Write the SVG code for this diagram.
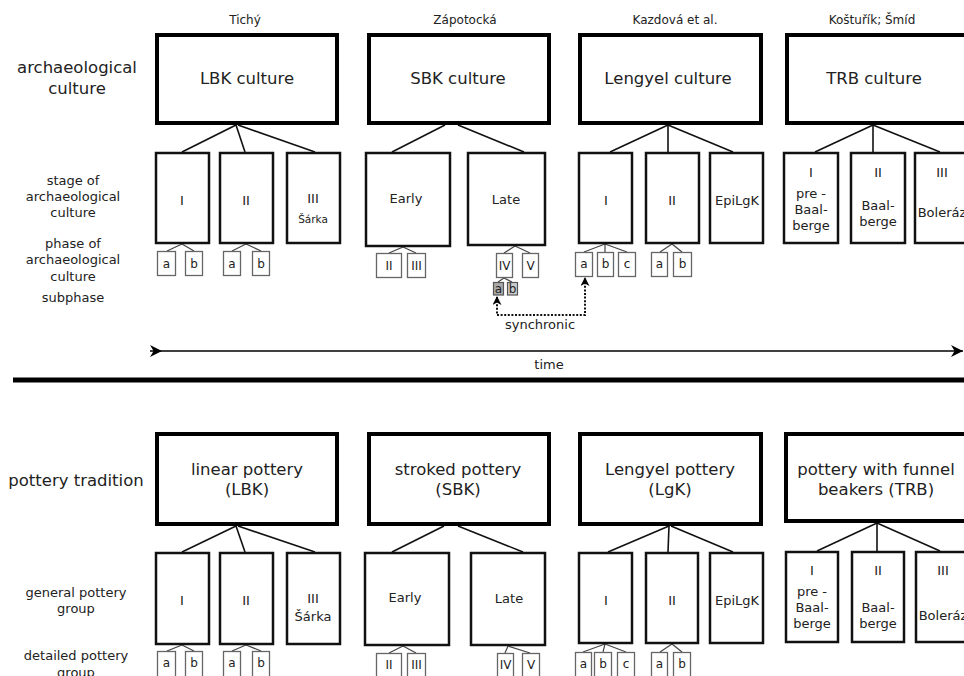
<svg xmlns="http://www.w3.org/2000/svg" width="964" height="676" viewBox="0 0 964 676">
<style>
text{font-family:"DejaVu Sans","Liberation Sans",sans-serif;fill:#222;text-anchor:middle}
.big{fill:#fff;stroke:#000;stroke-width:4}
.stage{fill:#fff;stroke:#111;stroke-width:2.5}
.sub{fill:#fff;stroke:#666;stroke-width:1.3}
.t16{font-size:16.5px}
.t13{font-size:13px}
.t12{font-size:12px}
.t10{font-size:10.5px}
#connectors line{stroke:#111;stroke-width:1.6}
#connectors .thin line{stroke:#444;stroke-width:1.2}
</style>
<defs>
<marker id="ah" viewBox="0 0 10 10" refX="9" refY="5" markerWidth="9" markerHeight="9" orient="auto-start-reverse" markerUnits="userSpaceOnUse"><path d="M0,0 L10,5 L0,10 L3,5 z" fill="#000"/></marker>
<marker id="tail" viewBox="0 0 10 10" refX="0" refY="5" markerWidth="13" markerHeight="12" orient="auto" markerUnits="userSpaceOnUse"><path d="M0,0 L10,5 L0,10 L3,5 z" fill="#000"/></marker>
<marker id="head" viewBox="0 0 10 10" refX="10" refY="5" markerWidth="13" markerHeight="12" orient="auto" markerUnits="userSpaceOnUse"><path d="M0,0 L10,5 L0,10 L3,5 z" fill="#000"/></marker>
</defs>

<g id="labels">
<text class="t12" x="245" y="24">Tichý</text>
<text class="t12" x="465" y="24">Zápotocká</text>
<text class="t12" x="675" y="24">Kazdová et al.</text>
<text class="t12" x="872" y="24">Koštuřík; Šmíd</text>
<text class="t16" x="77" y="73">archaeological</text>
<text class="t16" x="77" y="94">culture</text>
<text class="t13" x="73" y="185">stage of</text>
<text class="t13" x="73" y="201">archaeological</text>
<text class="t13" x="73" y="217">culture</text>
<text class="t13" x="73" y="248">phase of</text>
<text class="t13" x="73" y="264">archaeological</text>
<text class="t13" x="73" y="281">culture</text>
<text class="t13" x="73" y="302">subphase</text>
<text class="t16" x="76" y="486">pottery tradition</text>
<text class="t13" x="76" y="597">general pottery</text>
<text class="t13" x="76" y="613">group</text>
<text class="t13" x="76" y="660">detailed pottery</text>
<text class="t13" x="76" y="677">group</text>
<text class="t13" x="540" y="329">synchronic</text>
<text class="t13" x="549" y="369">time</text>
</g>

<g id="connectors">
<line x1="236" y1="125" x2="182" y2="152"/><line x1="236" y1="125" x2="245" y2="152"/><line x1="238" y1="125" x2="315" y2="152"/>
<line x1="445" y1="125" x2="392" y2="152"/><line x1="458" y1="125" x2="524" y2="152"/>
<line x1="668" y1="125" x2="610" y2="152"/><line x1="668" y1="125" x2="668" y2="152"/><line x1="668" y1="125" x2="733" y2="152"/>
<line x1="873" y1="125" x2="815" y2="152"/><line x1="873" y1="125" x2="873" y2="152"/><line x1="873" y1="125" x2="940" y2="152"/>
<line x1="236" y1="526" x2="182" y2="552"/><line x1="236" y1="526" x2="245" y2="552"/><line x1="238" y1="526" x2="315" y2="552"/>
<line x1="444" y1="526" x2="392" y2="552"/><line x1="458" y1="526" x2="523" y2="552"/>
<line x1="669" y1="526" x2="608" y2="552"/><line x1="669" y1="526" x2="668" y2="552"/><line x1="671" y1="526" x2="733" y2="552"/>
<line x1="877" y1="523" x2="817" y2="551"/><line x1="877" y1="523" x2="877" y2="551"/><line x1="877" y1="523" x2="940" y2="551"/>
<g class="thin">
<line x1="182" y1="244" x2="167" y2="251"/><line x1="182" y1="244" x2="194" y2="251"/>
<line x1="246" y1="244" x2="232" y2="251"/><line x1="246" y1="244" x2="261" y2="251"/>
<line x1="403" y1="247" x2="389" y2="253"/><line x1="403" y1="247" x2="416" y2="253"/>
<line x1="515" y1="246" x2="504" y2="253"/><line x1="515" y1="246" x2="530" y2="253"/>
<line x1="504" y1="278" x2="498" y2="282"/><line x1="504" y1="278" x2="512" y2="282"/>
<line x1="605" y1="244" x2="584" y2="252"/><line x1="605" y1="244" x2="605" y2="252"/><line x1="605" y1="244" x2="627" y2="252"/>
<line x1="672" y1="244" x2="660" y2="252"/><line x1="672" y1="244" x2="682" y2="252"/>
<line x1="182" y1="645" x2="167" y2="651"/><line x1="182" y1="645" x2="194" y2="651"/>
<line x1="246" y1="645" x2="232" y2="651"/><line x1="246" y1="645" x2="261" y2="651"/>
<line x1="403" y1="646" x2="389" y2="653"/><line x1="403" y1="646" x2="416" y2="653"/>
<line x1="508" y1="646" x2="505" y2="653"/><line x1="508" y1="646" x2="530" y2="653"/>
<line x1="605" y1="644" x2="583" y2="652"/><line x1="605" y1="644" x2="603" y2="652"/><line x1="605" y1="644" x2="626" y2="652"/>
<line x1="672" y1="644" x2="660" y2="652"/><line x1="672" y1="644" x2="682" y2="652"/>
</g>
<path d="M497,297 V315 H585 V278" fill="none" stroke="#111" stroke-width="2" stroke-dasharray="2 1.6" marker-start="url(#ah)" marker-end="url(#ah)"/>
<line x1="150" y1="351" x2="963" y2="351" stroke="#000" stroke-width="1.5" marker-start="url(#tail)" marker-end="url(#head)" style="stroke:#000;stroke-width:1.5"/>
<line x1="13" y1="380" x2="964" y2="380" style="stroke:#000;stroke-width:5"/>
</g>

<g id="n-lbk"><rect class="big" x="157" y="35" width="180" height="88"/><text class="t16" x="247" y="84">LBK culture</text></g>
<g id="n-sbk"><rect class="big" x="369" y="35" width="180" height="88"/><text class="t16" x="458" y="84">SBK culture</text></g>
<g id="n-lengyel"><rect class="big" x="580" y="35" width="181" height="88"/><text class="t16" x="668" y="84">Lengyel culture</text></g>
<g id="n-trb"><rect class="big" x="787" y="35" width="187" height="88"/><text class="t16" x="874" y="84">TRB culture</text></g>

<g id="n-lbk-1"><rect class="stage" x="156" y="153" width="53" height="90"/><text class="t13" x="182" y="205">I</text></g>
<g id="n-lbk-2"><rect class="stage" x="220" y="153" width="53" height="90"/><text class="t13" x="246" y="205">II</text></g>
<g id="n-lbk-3"><rect class="stage" x="287" y="153" width="53" height="90"/><text class="t13" x="313" y="203">III</text><text class="t10" x="313" y="223">Šárka</text></g>
<g id="n-sbk-early"><rect class="stage" x="366" y="153" width="84" height="93"/><text class="t13" x="406" y="203">Early</text></g>
<g id="n-sbk-late"><rect class="stage" x="468" y="153" width="77" height="92"/><text class="t13" x="506" y="204">Late</text></g>
<g id="n-lg-1"><rect class="stage" x="579" y="153" width="53" height="90"/><text class="t13" x="606" y="205">I</text></g>
<g id="n-lg-2"><rect class="stage" x="646" y="153" width="53" height="90"/><text class="t13" x="672" y="205">II</text></g>
<g id="n-lg-epi"><rect class="stage" x="710" y="153" width="53" height="90"/><text class="t13" x="737" y="205">EpiLgK</text></g>
<g id="n-trb-1"><rect class="stage" x="784" y="153" width="54" height="90"/><text class="t13" x="811" y="177">I</text><text class="t13" x="811" y="198">pre -</text><text class="t13" x="811" y="214">Baal-</text><text class="t13" x="811" y="230">berge</text></g>
<g id="n-trb-2"><rect class="stage" x="851" y="153" width="54" height="90"/><text class="t13" x="878" y="177">II</text><text class="t13" x="878" y="210">Baal-</text><text class="t13" x="878" y="226">berge</text></g>
<g id="n-trb-3"><rect class="stage" x="915" y="153" width="60" height="90"/><text class="t13" x="942" y="177">III</text><text class="t13" x="942" y="217">Boleráz</text></g>

<g id="n-lbk-1a"><rect class="sub" x="157.5" y="251.5" width="18" height="24"/><text class="t12" x="166.5" y="268">a</text></g>
<g id="n-lbk-1b"><rect class="sub" x="185.5" y="251.5" width="17" height="24"/><text class="t12" x="194" y="268">b</text></g>
<g id="n-lbk-2a"><rect class="sub" x="223.5" y="251.5" width="17" height="24"/><text class="t12" x="232" y="268">a</text></g>
<g id="n-lbk-2b"><rect class="sub" x="252.5" y="251.5" width="17" height="24"/><text class="t12" x="261" y="268">b</text></g>
<g id="n-sbk-II"><rect class="sub" x="376.5" y="253.5" width="25" height="24"/><text class="t12" x="389" y="270">II</text></g>
<g id="n-sbk-III"><rect class="sub" x="407.5" y="253.5" width="18" height="24"/><text class="t12" x="416.5" y="270">III</text></g>
<g id="n-sbk-IV"><rect class="sub" x="496.5" y="253.5" width="16" height="24"/><text class="t12" x="504.5" y="270">IV</text></g>
<g id="n-sbk-V"><rect class="sub" x="522.5" y="253.5" width="16" height="24"/><text class="t12" x="530.5" y="270">V</text></g>
<g id="n-sbk-IVa"><rect x="493.5" y="282.5" width="10" height="12.5" fill="#aaa" stroke="#555" stroke-width="1.2"/><text class="t12" x="498.5" y="293">a</text></g>
<g id="n-sbk-IVb"><rect x="507.5" y="282.5" width="10" height="12.5" fill="#ccc" stroke="#555" stroke-width="1.2"/><text class="t12" x="512.5" y="293">b</text></g>
<g id="n-lg-1a"><rect class="sub" x="575.5" y="252.5" width="17" height="24"/><text class="t12" x="584" y="268">a</text></g>
<g id="n-lg-1b"><rect class="sub" x="597.5" y="252.5" width="16" height="24"/><text class="t12" x="605.5" y="268">b</text></g>
<g id="n-lg-1c"><rect class="sub" x="618.5" y="252.5" width="17" height="24"/><text class="t12" x="627" y="268">c</text></g>
<g id="n-lg-2a"><rect class="sub" x="651.5" y="252.5" width="16" height="24"/><text class="t12" x="659.5" y="268">a</text></g>
<g id="n-lg-2b"><rect class="sub" x="673.5" y="252.5" width="18" height="24"/><text class="t12" x="682.5" y="268">b</text></g>

<g id="p-lbk"><rect class="big" x="157" y="434" width="180" height="90"/><text class="t16" x="247" y="475">linear pottery</text><text class="t16" x="247" y="495">(LBK)</text></g>
<g id="p-sbk"><rect class="big" x="369" y="434" width="180" height="90"/><text class="t16" x="458" y="475">stroked pottery</text><text class="t16" x="458" y="495">(SBK)</text></g>
<g id="p-lengyel"><rect class="big" x="580" y="434" width="181" height="90"/><text class="t16" x="670" y="475">Lengyel pottery</text><text class="t16" x="670" y="495">(LgK)</text></g>
<g id="p-trb"><rect class="big" x="786" y="434" width="188" height="87"/><text class="t16" x="876" y="475">pottery with funnel</text><text class="t16" x="876" y="495">beakers (TRB)</text></g>

<g id="p-lbk-1"><rect class="stage" x="156" y="553" width="53" height="91"/><text class="t13" x="182" y="605">I</text></g>
<g id="p-lbk-2"><rect class="stage" x="220" y="553" width="53" height="91"/><text class="t13" x="246" y="605">II</text></g>
<g id="p-lbk-3"><rect class="stage" x="287" y="553" width="53" height="91"/><text class="t13" x="313" y="603">III</text><text class="t13" x="313" y="621">Šárka</text></g>
<g id="p-sbk-early"><rect class="stage" x="365" y="553" width="84" height="92"/><text class="t13" x="405" y="602">Early</text></g>
<g id="p-sbk-late"><rect class="stage" x="471" y="553" width="74" height="92"/><text class="t13" x="509" y="603">Late</text></g>
<g id="p-lg-1"><rect class="stage" x="579" y="553" width="53" height="90"/><text class="t13" x="606" y="605">I</text></g>
<g id="p-lg-2"><rect class="stage" x="646" y="553" width="52" height="90"/><text class="t13" x="672" y="605">II</text></g>
<g id="p-lg-epi"><rect class="stage" x="710" y="553" width="53" height="90"/><text class="t13" x="737" y="605">EpiLgK</text></g>
<g id="p-trb-1"><rect class="stage" x="786" y="552" width="52" height="90"/><text class="t13" x="812" y="575">I</text><text class="t13" x="812" y="596">pre -</text><text class="t13" x="812" y="612">Baal-</text><text class="t13" x="812" y="628">berge</text></g>
<g id="p-trb-2"><rect class="stage" x="852" y="552" width="52" height="90"/><text class="t13" x="878" y="575">II</text><text class="t13" x="878" y="612">Baal-</text><text class="t13" x="878" y="628">berge</text></g>
<g id="p-trb-3"><rect class="stage" x="916" y="552" width="60" height="90"/><text class="t13" x="943" y="575">III</text><text class="t13" x="943" y="620">Boleráz</text></g>

<g id="p-lbk-1a"><rect class="sub" x="157.5" y="651.5" width="18" height="30"/><text class="t12" x="166.5" y="667">a</text></g>
<g id="p-lbk-1b"><rect class="sub" x="185.5" y="651.5" width="17" height="30"/><text class="t12" x="194" y="667">b</text></g>
<g id="p-lbk-2a"><rect class="sub" x="223.5" y="651.5" width="17" height="30"/><text class="t12" x="232" y="667">a</text></g>
<g id="p-lbk-2b"><rect class="sub" x="252.5" y="651.5" width="17" height="30"/><text class="t12" x="261" y="667">b</text></g>
<g id="p-sbk-II"><rect class="sub" x="376.5" y="653.5" width="25" height="30"/><text class="t12" x="389" y="669">II</text></g>
<g id="p-sbk-III"><rect class="sub" x="407.5" y="653.5" width="18" height="30"/><text class="t12" x="416.5" y="669">III</text></g>
<g id="p-sbk-IV"><rect class="sub" x="497.5" y="653.5" width="16" height="30"/><text class="t12" x="505.5" y="669">IV</text></g>
<g id="p-sbk-V"><rect class="sub" x="522.5" y="653.5" width="17" height="30"/><text class="t12" x="531" y="669">V</text></g>
<g id="p-lg-1a"><rect class="sub" x="575.5" y="652.5" width="16" height="30"/><text class="t12" x="583.5" y="668">a</text></g>
<g id="p-lg-1b"><rect class="sub" x="594.5" y="652.5" width="17" height="30"/><text class="t12" x="603" y="668">b</text></g>
<g id="p-lg-1c"><rect class="sub" x="617.5" y="652.5" width="17" height="30"/><text class="t12" x="626" y="668">c</text></g>
<g id="p-lg-2a"><rect class="sub" x="651.5" y="652.5" width="16" height="30"/><text class="t12" x="659.5" y="668">a</text></g>
<g id="p-lg-2b"><rect class="sub" x="673.5" y="652.5" width="17" height="30"/><text class="t12" x="682" y="668">b</text></g>
</svg>
